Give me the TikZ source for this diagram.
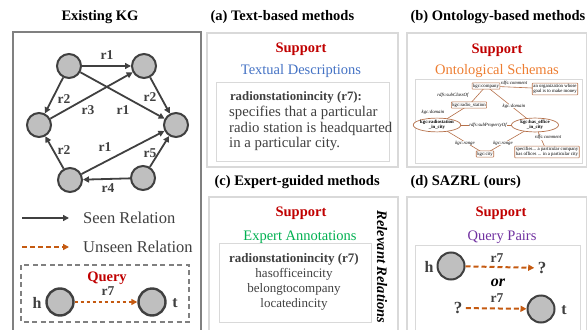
\documentclass[tikz,border=0pt]{standalone}
\usepackage{fontspec}
\setmainfont{Liberation Serif}
\usetikzlibrary{arrows.meta,shapes.geometric}

\definecolor{supred}{HTML}{C00000}
\definecolor{txtblue}{HTML}{4472C4}
\definecolor{ontorange}{HTML}{ED7D31}
\definecolor{expgreen}{HTML}{00B050}
\definecolor{qpurple}{HTML}{7030A0}
\definecolor{unseenc}{HTML}{C55A11}
\definecolor{seenc}{HTML}{404040}
\definecolor{entfill}{HTML}{BFBFBF}
\definecolor{panelc}{HTML}{D9D9D9}
\definecolor{ontc}{HTML}{B5704A}

\newcommand{\ttlfont}{\fontsize{14.5}{17}\selectfont\bfseries}
\newcommand{\midfont}{\fontsize{14.5}{17}\selectfont}
\newcommand{\txtfont}{\fontsize{14.8}{15.5}\selectfont}
\newcommand{\lstfont}{\fontsize{13}{15}\selectfont}
\newcommand{\relfont}{\fontsize{13.5}{15}\selectfont\bfseries}
\newcommand{\tinyfont}{\fontsize{4.8}{5.4}\selectfont}

\tikzset{
  ent/.style={circle, draw=seenc, fill=entfill, line width=2pt, minimum size=24pt, inner sep=0pt},
  bigent/.style={ent, line width=2.4pt, minimum size=27pt},
  seen/.style={draw=seenc, line width=1.8pt, -{Triangle[length=6pt,width=6pt]}},
  unseen/.style={draw=unseenc, line width=1.4pt, dash pattern=on 3.5pt off 2.5pt, -{Triangle[length=6pt,width=6pt]}},
  thickunseen/.style={unseen, line width=2pt, dash pattern=on 5pt off 3pt},
  rlbl/.style={font=\relfont, text=seenc, inner sep=0pt},
  panel/.style={draw=panelc, line width=1.6pt},
  inbox/.style={draw=panelc, line width=1pt},
  ontbox/.style={draw=ontc, line width=0.6pt, rounded corners=0.6pt, inner sep=1pt, font=\tinyfont, align=center, fill=white},
  ontell/.style={ellipse, draw=ontc, line width=0.7pt, inner sep=0pt, minimum width=47pt, minimum height=13pt, font=\tinyfont\bfseries, align=center, fill=white},
  ontedge/.style={draw=ontc, line width=0.6pt},
  olbl/.style={font=\tinyfont\itshape, inner sep=0.3pt, fill=white}
}

\begin{document}
\begin{tikzpicture}[x=1pt, y=-1pt]

    \useasboundingbox (0,0) rectangle (588,329);

    % existing KG panel
    \node[font=\ttlfont] (kgtitle) at (100,17) {Existing KG};
    \draw[draw=black!50, line width=1.4pt] (13,333) -- (13,32) -- (201,32) -- (201,333);

    \node[ent] (e1) at (69,66) {};
    \node[ent] (e2) at (144,66) {};
    \node[ent] (e3) at (39,125) {};
    \node[ent] (e4) at (176,125) {};
    \node[ent] (e5) at (70,180) {};
    \node[ent] (e6) at (143,178) {};

    \draw[seen] (e1) -- (e2);
    \draw[seen] (e1) -- (e3);
    \draw[seen] (e3) -- (e2);
    \draw[seen] (e1) -- (e4);
    \draw[seen] (e2) -- (e4);
    \draw[seen] (e5) -- (e3);
    \draw[seen] (e5) -- (e4);
    \draw[seen] (e6) -- (e4);
    \draw[seen] (e6) -- (e5);

    \node[rlbl] (l12) at (107,55) {r1};
    \node[rlbl] (l13) at (64,99) {r2};
    \node[rlbl] (l32) at (88,110) {r3};
    \node[rlbl] (l14) at (123,110) {r1};
    \node[rlbl] (l24) at (150,97) {r2};
    \node[rlbl] (l53) at (64,150) {r2};
    \node[rlbl] (l54) at (105,147) {r1};
    \node[rlbl] (l64) at (150,153) {r5};
    \node[rlbl] (l65) at (108,188) {r4};

    % legend
    \coordinate (sa) at (22,218);
    \coordinate (sb) at (69,218);
    \coordinate (ua) at (22,247);
    \coordinate (ub) at (69,247);
    \draw[seen] (sa) -- (sb);
    \draw[thickunseen] (ua) -- (ub);
    \node[anchor=west, font=\fontsize{16.5}{18}\selectfont, text=seenc, inner sep=0pt] (seentxt) at (83,218) {Seen Relation};
    \node[anchor=west, font=\fontsize{16.5}{18}\selectfont, text=seenc, inner sep=0pt] (unseentxt) at (83,247) {Unseen Relation};

    % query box
    \draw[draw=black!50, line width=1.3pt, dash pattern=on 5pt off 3.5pt] (21,265) rectangle (189,322);
    \node[font=\ttlfont, text=supred] (qtitle) at (107,278) {Query};
    \node[bigent] (qh) at (60,302) {};
    \node[bigent] (qt) at (152,302) {};
    \node[font=\fontsize{16}{18}\selectfont\bfseries, text=seenc] (qhl) at (37,303) {h};
    \node[font=\fontsize{16}{18}\selectfont\bfseries, text=seenc] (qtl) at (175,303) {t};
    \draw[unseen] (qh) -- (qt);
    \node[rlbl] (qr7) at (108,291) {r7};

    % (a) text-based
    \node[anchor=west, font=\ttlfont] (atitle) at (207,17) {(a) Text-based methods};
    \draw[panel] (207,33) rectangle (398,167);
    \node[font=\ttlfont, text=supred] (asup) at (301,49) {Support};
    \node[font=\midfont, text=txtblue] (adesc) at (301,71) {Textual Descriptions};
    \draw[inbox] (216,82) rectangle (389,161);
    \node[font=\fontsize{12.8}{15}\selectfont\bfseries, text=seenc] (arel) at (296,97) {radionstationincity (r7):};
    \node[anchor=north west, font=\txtfont, text=seenc, align=left, inner sep=0pt] (atext) at (229,106)
        {specifies that a particular\\radio station is headquarted\\in a particular city.};

    % (b) ontology-based
    \node[anchor=west, font=\ttlfont] (btitle) at (407,17) {(b) Ontology-based methods};
    \draw[panel] (407,33) rectangle (586.5,167);
    \node[font=\ttlfont, text=supred] (bsup) at (497,50) {Support};
    \node[font=\midfont, text=ontorange] (bdesc) at (497,71) {Ontological Schemas};
    \draw[inbox] (415,79) rectangle (582,163);

    \coordinate (pcomp) at (486,86);
    \coordinate (pcomm) at (555,89);
    \coordinate (pradio) at (469,105);
    \coordinate (prsic) at (437,125);
    \coordinate (phoic) at (535,125);
    \coordinate (pcity) at (485,154);
    \coordinate (pspec) at (547,152);

    \draw[ontedge] (pcomp) -- (pcomm);
    \draw[ontedge] (pcomp) -- (pradio);
    \draw[ontedge] (pcomp) -- (phoic);
    \draw[ontedge] (pradio) -- (prsic);
    \draw[ontedge] (prsic) -- (phoic);
    \draw[ontedge] (prsic) -- (pcity);
    \draw[ontedge] (phoic) -- (pcity);
    \draw[ontedge] (phoic) -- (pspec);

    \node[ontbox] (ocomp) at (pcomp) {kgc:company};
    \node[ontbox] (ocomm) at (pcomm) {an organization whose\\goal is to make money};
    \node[ontbox] (oradio) at (pradio) {kgc:radio\_station};
    \node[ontell] (orsic) at (prsic) {kgc:radiostation\\\_in\_city};
    \node[ontell] (ohoic) at (phoic) {kgc:has\_office\\\_in\_city};
    \node[ontbox] (ocity) at (pcity) {kgc:city};
    \node[ontbox] (ospec) at (pspec) {specifies... a particular company\\has offices ... in a particular city};

    \node[olbl] (oc1) at (514,83) {rdfs:comment};
    \node[olbl] (osub) at (453,95) {rdfs:subClassOf};
    \node[olbl] (odom1) at (433,112) {kgc:domain};
    \node[olbl] (odom2) at (514,106) {kgc:domain};
    \node[olbl] (osubp) at (488,125) {rdfs:subPropertyOf};
    \node[olbl] (orng1) at (465,143) {kgc:range};
    \node[olbl] (orng2) at (503,143) {kgc:range};
    \node[olbl] (oc2) at (548,137) {rdfs:comment};

    % (c) expert-guided
    \node[anchor=west, font=\ttlfont] (ctitle) at (211,182) {(c) Expert-guided methods};
    \draw[panel] (209,333) -- (209,197) -- (398,197) -- (398,333);
    \node[font=\ttlfont, text=supred] (csup) at (301,213) {Support};
    \node[font=\midfont, text=expgreen] (cdesc) at (300,237) {Expert Annotations};
    \draw[inbox] (219,243) rectangle (371,322);
    \node[font=\lstfont, text=seenc, align=center, inner sep=0pt] (clist) at (294,282)
        {\textbf{radionstationincity (r7)}\\hasofficeincity\\belongtocompany\\locatedincity};
    \node[rotate=-90, font=\ttlfont\itshape] (crel) at (382,267) {Relevant Relations};

    % (d) ours
    \node[anchor=west, font=\ttlfont] (dtitle) at (407,182) {(d) SAZRL (ours)};
    \draw[panel] (407,333) -- (407,197) -- (586.5,197) -- (586.5,333);
    \node[font=\ttlfont, text=supred] (dsup) at (501,213) {Support};
    \node[font=\midfont, text=qpurple] (ddesc) at (502,237) {Query Pairs};
    \draw[inbox] (415,333) -- (415,245) -- (580,245) -- (580,333);

    \node[ent, minimum size=27pt] (dh) at (451,266) {};
    \node[font=\fontsize{16}{18}\selectfont\bfseries, text=seenc] (dhl) at (429,267) {h};
    \node[font=\fontsize{17}{18}\selectfont\bfseries, text=seenc] (dq1) at (542,268) {?};
    \draw[thickunseen] (dh) -- (dq1);
    \node[rlbl] (dr1) at (497,258) {r7};
    \node[font=\fontsize{16}{18}\selectfont\bfseries\itshape, text=black] (dor) at (498,283) {or};
    \node[font=\fontsize{17}{18}\selectfont\bfseries, text=seenc] (dq2) at (458,308) {?};
    \node[ent, minimum size=27pt] (dt) at (541,309) {};
    \node[font=\fontsize{16}{18}\selectfont\bfseries, text=seenc] (dtl) at (564,310) {t};
    \draw[thickunseen] (dq2) -- (dt);
    \node[rlbl] (dr2) at (497,298) {r7};

\end{tikzpicture}
\end{document}
